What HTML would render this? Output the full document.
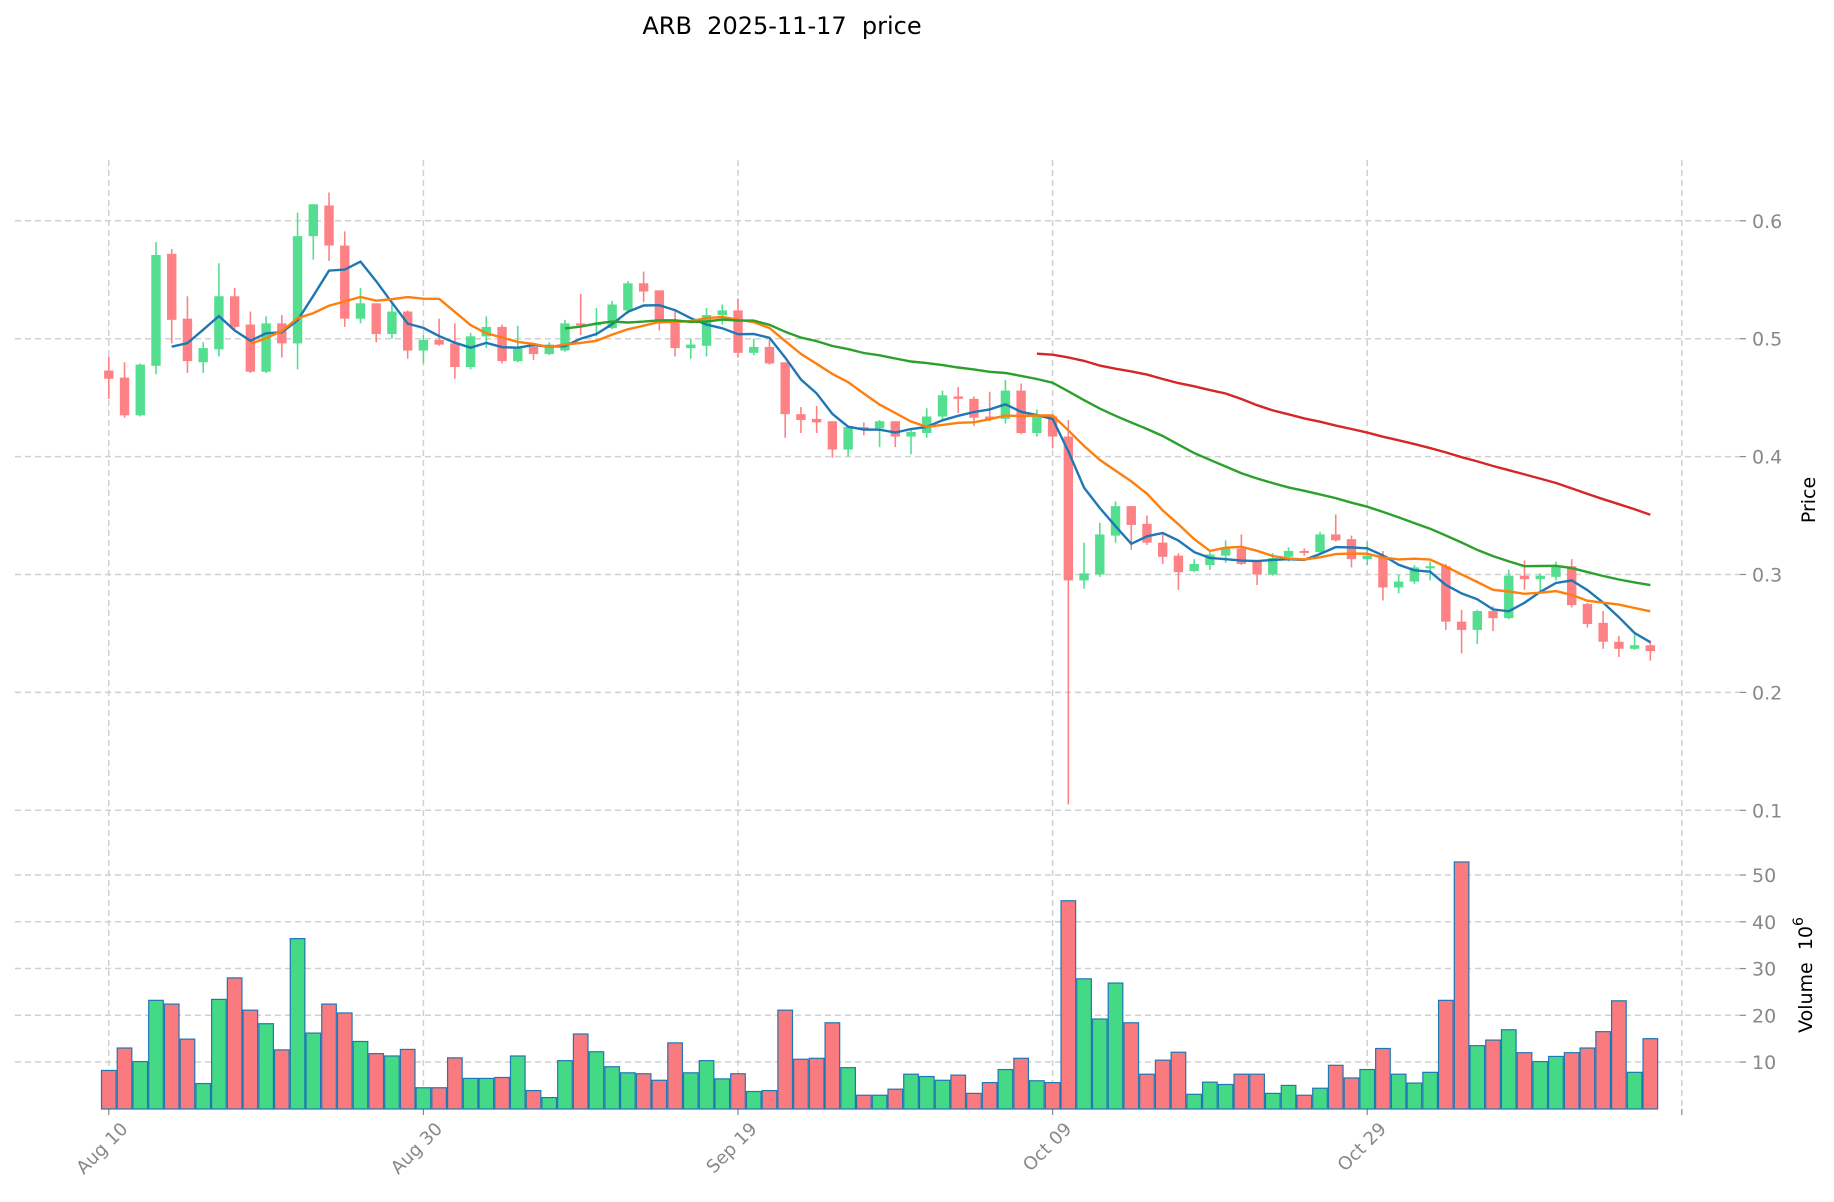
<!DOCTYPE html>
<html><head><meta charset="utf-8"><style>
html,body{margin:0;padding:0;background:#fff;}
svg{display:block;}
text{font-family:"DejaVu Sans","Liberation Sans",sans-serif;}
.pre{white-space:pre;}
</style></head><body>
<svg id="s" width="1834" height="1202" xmlns="http://www.w3.org/2000/svg" xml:space="preserve">
<text class="pre" x="782" y="34" font-size="24" text-anchor="middle" fill="#000">ARB  2025-11-17  price</text>
<text transform="translate(1815,500) rotate(-90)" font-size="19" text-anchor="middle" fill="#000">Price</text>
<text class="pre" transform="translate(1812,975) rotate(-90)" font-size="19" text-anchor="middle" fill="#000">Volume  10<tspan dy="-9" font-size="14">6</tspan></text>
<g id="g"></g>
</svg>
<script>
var D=[[.473,.466,.485,.449],[.467,.435,.480,.433],[.435,.478,.479,.434],[.477,.571,.582,.470],[.572,.516,.576,.496],
[.517,.481,.536,.471],[.480,.492,.497,.471],[.491,.536,.564,.485],[.536,.510,.543,.508],[.512,.472,.523,.471],
[.472,.513,.519,.471],[.513,.496,.520,.484],[.496,.587,.607,.474],[.587,.614,.614,.567],[.613,.579,.624,.566],
[.579,.517,.591,.510],[.517,.530,.543,.513],[.530,.504,.530,.497],[.504,.523,.529,.500],[.523,.490,.524,.483],
[.490,.499,.503,.479],[.499,.495,.517,.494],[.496,.476,.513,.466],[.476,.502,.505,.474],[.502,.510,.519,.492],
[.510,.481,.512,.479],[.481,.493,.511,.480],[.493,.487,.494,.482],[.487,.495,.497,.486],[.490,.513,.516,.489],
[.513,.512,.538,.503],[.512,.513,.526,.502],[.509,.529,.532,.508],[.524,.547,.549,.521],[.547,.540,.557,.531],
[.541,.513,.541,.507],[.513,.492,.523,.485],[.492,.495,.500,.483],[.494,.520,.526,.485],[.520,.524,.529,.512],
[.524,.488,.534,.484],[.488,.493,.500,.486],[.493,.479,.499,.478],[.480,.436,.480,.416],[.436,.431,.442,.420],
[.432,.429,.443,.420],[.430,.406,.430,.399],[.406,.425,.425,.400],[.425,.424,.429,.418],[.424,.430,.431,.408],
[.430,.417,.430,.408],[.417,.421,.424,.402],[.420,.434,.441,.416],[.434,.452,.456,.432],[.451,.449,.459,.437],
[.449,.433,.451,.426],[.434,.432,.455,.430],[.432,.456,.465,.428],[.456,.420,.462,.419],[.420,.435,.440,.417],
[.434,.417,.434,.407],[.417,.295,.431,.105],[.295,.301,.327,.288],[.300,.334,.344,.298],[.333,.358,.362,.327],
[.358,.342,.358,.321],[.343,.327,.350,.325],[.327,.315,.334,.309],[.316,.302,.318,.287],[.303,.309,.313,.302],
[.308,.317,.319,.304],[.316,.322,.329,.310],[.322,.309,.334,.308],[.311,.300,.311,.291],[.300,.314,.318,.299],
[.315,.320,.323,.311],[.320,.319,.322,.316],[.319,.334,.336,.318],[.334,.329,.351,.328],[.330,.313,.333,.306],
[.313,.316,.328,.308],[.316,.289,.320,.278],[.289,.294,.300,.284],[.294,.306,.308,.292],[.306,.307,.311,.295],
[.307,.260,.309,.253],[.260,.253,.270,.233],[.253,.269,.270,.241],[.269,.263,.273,.252],[.263,.299,.304,.262],
[.299,.296,.312,.287],[.296,.299,.301,.286],[.298,.307,.311,.295],[.307,.274,.313,.272],[.275,.258,.276,.255],
[.259,.243,.269,.237],[.243,.237,.248,.230],[.237,.240,.249,.236],[.240,.235,.244,.227]];
var V=[8.2,13.0,10.1,23.2,22.4,14.9,5.4,23.4,28.0,21.1,18.2,12.6,36.4,16.2,22.4,20.5,14.4,11.8,11.3,12.7,4.5,4.5,10.9,6.5,6.5,6.7,11.3,3.9,2.4,10.3,16.0,12.2,9.0,7.7,7.5,6.1,14.1,7.7,10.3,6.4,7.5,3.7,3.9,21.1,10.6,10.8,18.4,8.8,2.9,2.9,4.2,7.4,6.9,6.1,7.2,3.3,5.6,8.4,10.8,6.0,5.6,44.5,27.8,19.2,26.9,18.4,7.4,10.4,12.1,3.1,5.7,5.2,7.4,7.4,3.3,5.0,2.9,4.4,9.3,6.6,8.4,12.9,7.4,5.5,7.8,23.2,52.8,13.5,14.7,16.9,12.0,10.1,11.2,12.0,13.0,16.5,23.1,7.8,15.0];
var X=function(i){return 108.8+15.73*i;};
var Y=function(p){return 338.7-(p-0.5)*1179;};
var VY=function(v){return 1108.8-4.675*v;};
var h='';
var G='#53df8f',R='#fe8285',gc='#d0d0d0';
[0.1,0.2,0.3,0.4,0.5,0.6].forEach(function(p){var y=Y(p);
h+='<line x1="15" x2="1740" y1="'+y+'" y2="'+y+'" stroke="'+gc+'" stroke-width="1.5" stroke-dasharray="6,4"/>';
h+='<line x1="1740" x2="1746" y1="'+y+'" y2="'+y+'" stroke="#888" stroke-width="1.2"/>';
h+='<text x="1752" y="'+(y+7)+'" font-size="19" fill="#888">'+p+'</text>';});
[10,20,30,40,50].forEach(function(v){var y=VY(v);
h+='<line x1="15" x2="1740" y1="'+y+'" y2="'+y+'" stroke="'+gc+'" stroke-width="1.5" stroke-dasharray="6,4"/>';
h+='<line x1="1740" x2="1746" y1="'+y+'" y2="'+y+'" stroke="#888" stroke-width="1.2"/>';
h+='<text x="1752" y="'+(y+7)+'" font-size="19" fill="#888">'+v+'</text>';});
var labs=['Aug 10','Aug 30','Sep 19','Oct 09','Oct 29',''];
for(var k=0;k<6;k++){var x=X(20*k);
h+='<line x1="'+x+'" x2="'+x+'" y1="160" y2="1109" stroke="'+gc+'" stroke-width="1.5" stroke-dasharray="6,4"/>';
h+='<line x1="'+x+'" x2="'+x+'" y1="1109" y2="1115" stroke="#888" stroke-width="1.2"/>';
if(labs[k])h+='<text transform="translate('+(x+20)+',1130) rotate(-45)" font-size="18" text-anchor="end" fill="#888">'+labs[k]+'</text>';}
for(var i=0;i<V.length;i++){var c=D[i][1]>=D[i][0]?'#43d985':'#fa7b7f';var y=VY(V[i]);
h+='<rect x="'+(X(i)-7.3)+'" y="'+y+'" width="14.6" height="'+(1109-y)+'" fill="'+c+'" stroke="#1f77b4" stroke-width="1.2"/>';}
for(var i=0;i<D.length;i++){var d=D[i],up=d[1]>=d[0],c=up?G:R,x=X(i);
h+='<line x1="'+x+'" x2="'+x+'" y1="'+Y(d[2])+'" y2="'+Y(d[3])+'" stroke="'+c+'" stroke-width="1.6"/>';
var t=Y(Math.max(d[0],d[1])),b=Y(Math.min(d[0],d[1]));if(b-t<2){b=t+2;}
h+='<rect x="'+(x-4.7)+'" y="'+t+'" width="9.4" height="'+(b-t)+'" fill="'+c+'"/>';}
function ma(n,col){var pts=[];for(var i=n-1;i<D.length;i++){var s=0;for(var j=i-n+1;j<=i;j++)s+=D[j][1];pts.push(X(i).toFixed(1)+','+Y(s/n).toFixed(1));}
h+='<polyline points="'+pts.join(' ')+'" fill="none" stroke="'+col+'" stroke-width="2.4"/>';}
ma(5,'#1f77b4');ma(10,'#ff7f0e');ma(30,'#2ca02c');ma(60,'#d62728');
document.getElementById('g').innerHTML=h;
</script>
</body></html>
